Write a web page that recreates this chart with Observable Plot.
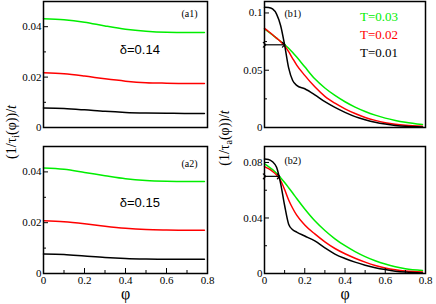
<!DOCTYPE html>
<html><head><meta charset="utf-8">
<script src="https://cdn.jsdelivr.net/npm/d3@7"></script>
<script src="https://cdn.jsdelivr.net/npm/@observablehq/plot@0.6"></script>
<style>
body{margin:0;background:#fff}
#chart{position:relative;width:436px;height:304px;overflow:hidden}
#chart svg{position:absolute;left:0;top:0}
</style></head><body><div id="chart"></div>
<script>
// ---- data ----
const phiA = [0, 0.1, 0.2, 0.3, 0.4, 0.5, 0.6, 0.7, 0.785];
const a1Green = [0.0432, 0.0428, 0.0418, 0.0403, 0.0390, 0.0382, 0.0378, 0.0377, 0.0377];
const a1Red   = [0.0217, 0.0213, 0.0204, 0.0193, 0.0184, 0.0178, 0.0176, 0.0175, 0.0175];
const a1Black = [0.0077, 0.0075, 0.0070, 0.0064, 0.0060, 0.0058, 0.0057, 0.0056, 0.0056];
const a2Green = [0.0415, 0.0410, 0.0398, 0.0385, 0.0373, 0.0366, 0.0363, 0.0362, 0.0362];
const a2Red   = [0.0208, 0.0204, 0.0196, 0.0186, 0.0178, 0.0173, 0.0171, 0.0170, 0.0170];
const a2Black = [0.0077, 0.0075, 0.0069, 0.0063, 0.0059, 0.0057, 0.0056, 0.0056, 0.0056];

const phiB = [0, 0.02, 0.04, 0.06, 0.08, 0.10, 0.12, 0.14, 0.16, 0.20, 0.25, 0.30, 0.35, 0.40, 0.45, 0.50, 0.55, 0.60, 0.65, 0.70, 0.785];
const b1Green = [0.0860, 0.0834, 0.0808, 0.0780, 0.0752, 0.0725, 0.0692, 0.0655, 0.0615, 0.0530, 0.0425, 0.0345, 0.0280, 0.0225, 0.0178, 0.0140, 0.0108, 0.0082, 0.0062, 0.0046, 0.0026];
const b1Red   = [0.0865, 0.0838, 0.0810, 0.0780, 0.0750, 0.0715, 0.0662, 0.0602, 0.0545, 0.0455, 0.0355, 0.0272, 0.0212, 0.0163, 0.0122, 0.0088, 0.0062, 0.0042, 0.0028, 0.0019, 0.0012];
const b1Black = [0.1050, 0.1048, 0.1035, 0.0990, 0.0890, 0.0720, 0.0520, 0.0410, 0.0368, 0.0338, 0.0285, 0.0225, 0.0175, 0.0132, 0.0095, 0.0068, 0.0046, 0.0030, 0.0018, 0.0010, 0.0005];
const b2Green = [0.0790, 0.0770, 0.0748, 0.0722, 0.0690, 0.0655, 0.0618, 0.0580, 0.0540, 0.0465, 0.0380, 0.0310, 0.0250, 0.0200, 0.0158, 0.0122, 0.0092, 0.0068, 0.0049, 0.0035, 0.0022];
const b2Red   = [0.0770, 0.0755, 0.0735, 0.0710, 0.0670, 0.0605, 0.0530, 0.0470, 0.0420, 0.0350, 0.0285, 0.0228, 0.0180, 0.0142, 0.0110, 0.0082, 0.0058, 0.0040, 0.0027, 0.0018, 0.0010];
const b2Black = [0.0825, 0.0822, 0.0805, 0.0765, 0.0650, 0.0490, 0.0355, 0.0315, 0.0298, 0.0270, 0.0235, 0.0185, 0.0140, 0.0108, 0.0082, 0.0060, 0.0042, 0.0028, 0.0017, 0.0010, 0.0004];

const tLabels = ["T=0.03", "T=0.02", "T=0.01"];
const colors = ["#00ee00", "#ff0000", "#000000"];
const xMajor = [0, 0.2, 0.4, 0.6, 0.8];
const xMinor = [0.1, 0.3, 0.5, 0.7];
const yMajorA = [0, 0.02, 0.04];
const yMinorA = [0.01, 0.03];
const yMajorB1 = [0, 0.05, 0.1];
const yMinorB1 = [0.025, 0.075];
const yMajorB2 = [0, 0.04, 0.08];
const yMinorB2 = [0.02, 0.06];
const b1Arrow = [{x1: 0, x2: 0.095, y: 0.0722}];
const b2Arrow = [{x1: 0, x2: 0.07, y: 0.0700}];

// ---- drawing ----
const W = 436, H = 304;
const serif = "Liberation Serif, Times New Roman, serif";
const sans = "Liberation Sans, Arial, sans-serif";
function series(phi, vals) { return phi.map((p, i) => ({phi: p, v: vals[i]})); }

function panel(cfg) {
  const fw = W - cfg.ml - cfg.mr, fh = H - cfg.mt - cfg.mb;
  const marks = [];
  cfg.lines.forEach((vals, k) => marks.push(
    Plot.line(series(cfg.phi, vals), {x: "phi", y: "v", stroke: colors[k], strokeWidth: 1.5, curve: "monotone-x"})));
  marks.push(Plot.tickY(cfg.yMinor, {y: d => d, insetRight: fw - 3, stroke: "black"}));
  marks.push(Plot.tickY(cfg.yMajor, {y: d => d, insetRight: fw - 5, stroke: "black"}));
  marks.push(Plot.axisY({ticks: cfg.yMajor, tickSize: 0, tickPadding: 2, tickFormat: d => String(d), label: null, fontSize: 11, fontFamily: serif}));
  if (cfg.bottom) {
    marks.push(Plot.tickX(xMinor, {x: d => d, insetTop: fh - 3, stroke: "black"}));
    marks.push(Plot.tickX(xMajor, {x: d => d, insetTop: fh - 5, stroke: "black"}));
    marks.push(Plot.axisX({ticks: xMajor, tickSize: 0, tickPadding: 3, tickFormat: d => String(d), label: null, fontSize: 11, fontFamily: serif}));
    marks.push(Plot.text(["φ"], {frameAnchor: "bottom", dy: 20, fontSize: 16, fontFamily: serif, text: d => d, lineAnchor: "middle"}));
  }
  marks.push(Plot.frame({stroke: "black", strokeWidth: 1.5}));
  marks.push(...(cfg.extra || []));
  return Plot.plot({
    width: W, height: H,
    marginLeft: cfg.ml, marginRight: cfg.mr, marginTop: cfg.mt, marginBottom: cfg.mb,
    x: {domain: [0, 0.8], axis: null},
    y: {domain: cfg.yDomain, axis: null},
    style: {background: "transparent", fontFamily: serif, fontSize: "11px", color: "black"},
    marks
  });
}

const chart = document.getElementById("chart");

chart.append(panel({
  ml: 43, mr: 229, mt: 1, mb: 177, yDomain: [0, 0.05], phi: phiA,
  lines: [a1Green, a1Red, a1Black], yMajor: yMajorA, yMinor: yMinorA, bottom: false,
  extra: [
    Plot.text(["(a1)"], {frameAnchor: "top-right", dx: -10, dy: 12, text: d => d, fontSize: 10, fontFamily: serif, textAnchor: "end", lineAnchor: "middle"}),
    Plot.text(["δ=0.14"], {x: () => 0.47, y: () => 0.031, text: d => d, fontSize: 13, fontFamily: sans})
  ]
}));
chart.append(panel({
  ml: 43, mr: 229, mt: 146, mb: 31, yDomain: [0, 0.05], phi: phiA,
  lines: [a2Green, a2Red, a2Black], yMajor: yMajorA, yMinor: yMinorA, bottom: true,
  extra: [
    Plot.text(["(a2)"], {frameAnchor: "top-right", dx: -10, dy: 17, text: d => d, fontSize: 10, fontFamily: serif, textAnchor: "end", lineAnchor: "middle"}),
    Plot.text(["δ=0.15"], {x: () => 0.47, y: () => 0.028, text: d => d, fontSize: 13, fontFamily: sans})
  ]
}));
chart.append(panel({
  ml: 264, mr: 11, mt: 1, mb: 177, yDomain: [0, 0.11], phi: phiB,
  lines: [b1Green, b1Red, b1Black], yMajor: yMajorB1, yMinor: yMinorB1, bottom: false,
  extra: [
    Plot.text(["(b1)"], {frameAnchor: "top-left", dx: 20, dy: 12, text: d => d, fontSize: 10, fontFamily: serif, textAnchor: "start", lineAnchor: "middle"}),
    Plot.text(tLabels, {x: () => 0.475, y: (d, i) => [0.0968, 0.0811, 0.0654][i], text: d => d, fill: (d, i) => colors[i], fontSize: 13, fontFamily: serif, textAnchor: "start"}),
    Plot.link(b1Arrow, {x1: "x1", x2: "x2", y1: "y", y2: "y", stroke: "black", strokeWidth: 1.2, markerStart: "arrow", markerEnd: "arrow"})
  ]
}));
chart.append(panel({
  ml: 264, mr: 11, mt: 146, mb: 31, yDomain: [0, 0.0915], phi: phiB,
  lines: [b2Green, b2Red, b2Black], yMajor: yMajorB2, yMinor: yMinorB2, bottom: true,
  extra: [
    Plot.text(["(b2)"], {frameAnchor: "top-left", dx: 20, dy: 14, text: d => d, fontSize: 10, fontFamily: serif, textAnchor: "start", lineAnchor: "middle"}),
    Plot.link(b2Arrow, {x1: "x1", x2: "x2", y1: "y", y2: "y", stroke: "black", strokeWidth: 1.2, markerStart: "arrow", markerEnd: "arrow"})
  ]
}));

// y-axis titles with subscripts
const ov = d3.create("svg").attr("width", W).attr("height", H)
  .style("font-family", serif).style("font-size", "14px");
function yTitle(x, y, sub) {
  const t = ov.append("text").attr("transform", `translate(${x},${y}) rotate(-90)`).attr("text-anchor", "middle");
  t.append("tspan").text("(1/τ");
  t.append("tspan").attr("dy", 3).attr("font-size", 10).text(sub);
  t.append("tspan").attr("dy", -3).text("(φ))/");
  t.append("tspan").attr("font-style", "italic").text("t");
}
yTitle(16, 132, "i");
yTitle(229, 138, "a");
chart.append(ov.node());
</script></body></html>
